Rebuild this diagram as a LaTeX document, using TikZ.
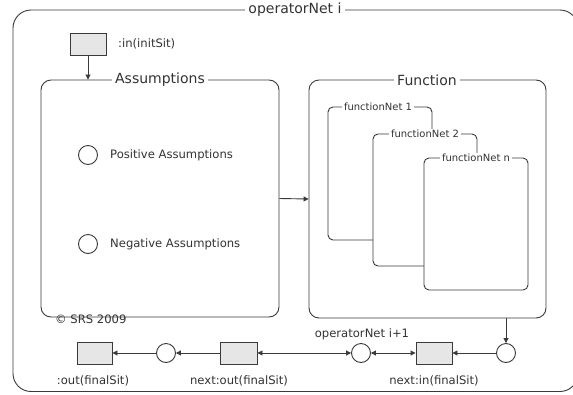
\documentclass[tikz,border=0pt]{standalone}
\usepackage{fontspec}
\setmainfont{DejaVu Sans}
\usetikzlibrary{arrows.meta}
\definecolor{ln}{HTML}{3A3A3A}
\definecolor{tx}{HTML}{333333}
\definecolor{boxfill}{HTML}{E6E6E6}
\tikzset{
  frame/.style={draw=ln, line width=0.9pt, fill=white, rectangle, inner sep=0pt},
  ttl/.style={fill=white, text=tx, inner xsep=3pt, inner ysep=1pt, font=\fontsize{14}{16}\selectfont},
  subttl/.style={fill=white, text=tx, inner xsep=2pt, inner ysep=1pt, font=\fontsize{10}{12}\selectfont},
  lbl/.style={text=tx, inner sep=1pt, font=\fontsize{11.6}{13}\selectfont},
  sbox/.style={draw=ln, line width=0.9pt, fill=boxfill, rectangle, inner sep=0pt, minimum height=22pt},
  place/.style={draw=ln, line width=0.9pt, fill=white, circle, inner sep=0pt, minimum size=19pt},
  arr/.style={draw=ln, line width=0.9pt, -{Triangle[length=5pt,width=5pt]}},
  darr/.style={draw=ln, line width=0.9pt, {Triangle[length=5pt,width=5pt]}-{Triangle[length=5pt,width=5pt]}}
}
\begin{document}
\begin{tikzpicture}[x=1pt,y=-1pt]
\useasboundingbox (0,0) rectangle (573,394);
\begin{scope}
\clip (0,0) rectangle (573,394);
% outer frame
\node[frame, rounded corners=18pt, minimum width=565pt, minimum height=381.5pt] (outer) at (295.5,200.75) {};
\end{scope}
\node[ttl] (outerT) at (295,10) {operatorNet i};
% assumptions
\node[frame, rounded corners=10pt, minimum width=238pt, minimum height=237pt] (assum) at (160,198.5) {};
\node[ttl] (assumT) at (assum.north) {Assumptions};
\node[place] (pos) at (88,155) {};
\node[lbl, anchor=west] (posL) at (109,155) {Positive Assumptions};
\node[place] (neg) at (88,244) {};
\node[lbl, anchor=west] (negL) at (109,244) {Negative Assumptions};
% function
\node[frame, rounded corners=10pt, minimum width=237pt, minimum height=238pt] (func) at (427.5,199) {};
\node[ttl] (funcT) at (427,80) {Function};
\node[frame, rounded corners=5pt, minimum width=104pt, minimum height=133pt] (fn1) at (380,173.5) {};
\node[subttl] (fn1T) at (378,107) {functionNet 1};
\node[frame, rounded corners=5pt, minimum width=104pt, minimum height=132pt] (fn2) at (425,200) {};
\node[subttl] (fn2T) at (425,134) {functionNet 2};
\node[frame, rounded corners=5pt, minimum width=104pt, minimum height=132pt] (fnn) at (476,224) {};
\node[subttl] (fnnT) at (476,158) {functionNet n};
% input
\node[sbox, minimum width=36pt] (inbox) at (88,44) {};
\node[lbl, anchor=west] (inL) at (117,44) {:in(initSit)};
\draw[arr] (inbox.south) -- (inbox.south |- assum.north);
\draw[arr] (assum.east) -- (func.west);
% bottom row
\node[sbox, minimum width=35pt] (outbox) at (94.5,353) {};
\node[lbl] (outL) at (93,381) {:out(finalSit)};
\node[place] (c1) at (166,353) {};
\node[sbox, minimum width=37pt] (nextout) at (238.5,353) {};
\node[lbl] (nextoutL) at (239,381) {next:out(finalSit)};
\node[place] (c2) at (361,353) {};
\node[lbl] (c2L) at (362,334) {operatorNet i+1};
\node[sbox, minimum width=36pt] (nextin) at (434,353) {};
\node[lbl] (nextinL) at (434,381) {next:in(finalSit)};
\node[place] (c3) at (506,353) {};
\draw[arr] (c1) -- (outbox);
\draw[arr] (nextout) -- (c1);
\draw[darr] (nextout) -- (c2);
\draw[darr] (c2) -- (nextin);
\draw[arr] (c3) -- (nextin);
\draw[arr] (func.south -| c3) -- (c3);
\node[lbl, anchor=west] (copy) at (54,319.5) {© SRS 2009};
\end{tikzpicture}
\end{document}
